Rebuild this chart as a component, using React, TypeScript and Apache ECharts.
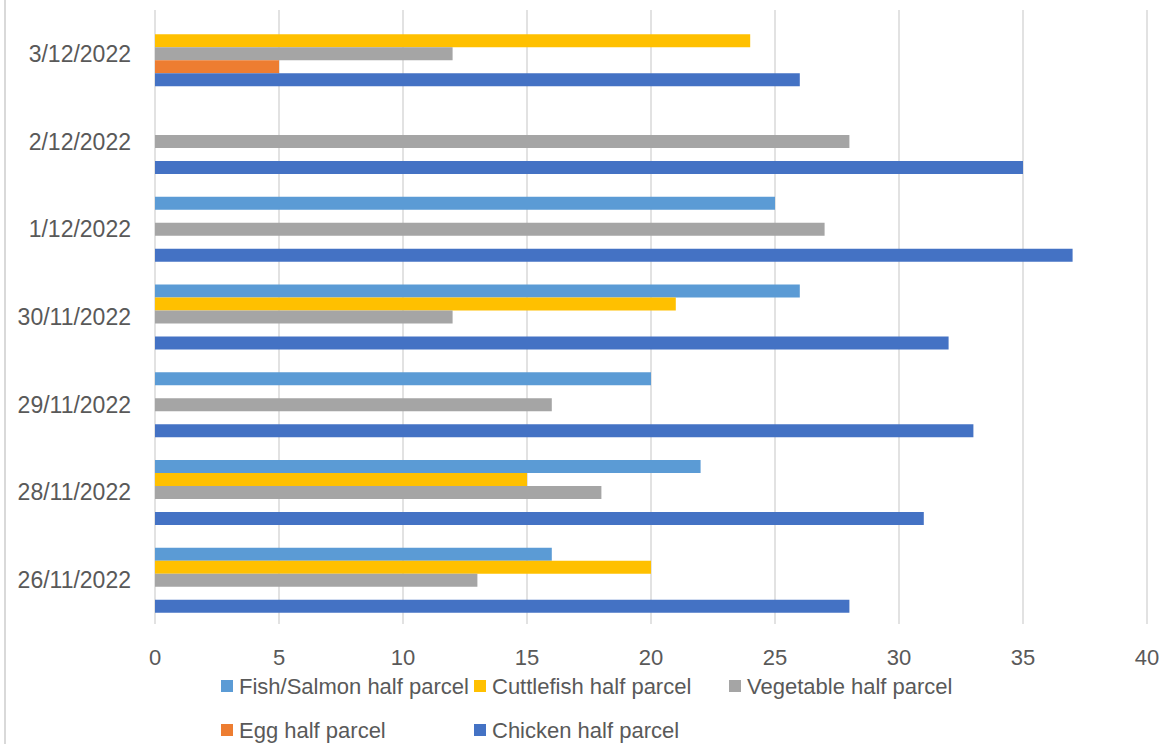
import React, { useEffect, useRef } from "react";
import * as echarts from "echarts";

const categories = ["26/11/2022", "28/11/2022", "29/11/2022", "30/11/2022", "1/12/2022", "2/12/2022", "3/12/2022"];
const fish = [16, 22, 20, 26, 25, null, null];
const cuttlefish = [20, 15, null, 21, null, null, 24];
const vegetable = [13, 18, 16, 12, 27, 28, 12];
const egg = [null, null, null, null, null, null, 5];
const chicken = [28, 31, 33, 32, 37, 35, 26];
const xTicks = [0, 5, 10, 15, 20, 25, 30, 35, 40];

const seriesNames = [
  "Fish/Salmon half parcel",
  "Cuttlefish half parcel",
  "Vegetable half parcel",
  "Egg half parcel",
  "Chicken half parcel",
];
const seriesData = [fish, cuttlefish, vegetable, egg, chicken];
const colors = ["#5B9BD5", "#FFC000", "#A5A5A5", "#ED7D31", "#4472C4"];
const legendPos = [
  { left: 221, top: 675 },
  { left: 474, top: 675 },
  { left: 729, top: 675 },
  { left: 221, top: 719 },
  { left: 474, top: 719 },
];

const FONT = "'Liberation Sans', Arial, sans-serif";
const TEXT = "#595959";

export default function App() {
  const ref = useRef<HTMLDivElement>(null);
  useEffect(() => {
    if (!ref.current) return;
    const chart = echarts.init(ref.current, null, { renderer: "svg" });
    chart.setOption({
      animation: false,
      textStyle: { fontFamily: FONT },
      grid: { left: 155, right: 19, top: 10, bottom: 120, containLabel: false },
      xAxis: {
        type: "value",
        min: xTicks[0],
        max: xTicks[xTicks.length - 1],
        interval: 5,
        axisLine: { show: false },
        axisTick: { show: false },
        axisLabel: { color: TEXT, fontSize: 22, fontFamily: FONT, margin: 22 },
        splitLine: { show: true, lineStyle: { color: "#d9d9d9", width: 1.5 } },
      },
      yAxis: {
        type: "category",
        data: categories,
        axisLine: { show: false },
        axisTick: { show: false },
        axisLabel: { color: TEXT, fontSize: 23, fontFamily: FONT, margin: 24 },
      },
      legend: seriesNames.map((n, i) => ({
        data: [n],
        left: legendPos[i].left,
        top: legendPos[i].top,
        padding: 0,
        icon: "rect",
        itemWidth: 12,
        itemHeight: 12,
        itemGap: 6,
        selectedMode: false,
        textStyle: { color: TEXT, fontSize: 22, fontFamily: FONT, padding: [0, 0, 0, 1] },
      })),
      graphic: [
        {
          type: "line",
          shape: { x1: 5, y1: 0, x2: 5, y2: 744 },
          style: { stroke: "#d9d9d9", lineWidth: 2 },
        },
      ],
      series: seriesNames.map((n, i) => ({
        name: n,
        type: "bar",
        data: seriesData[i],
        barWidth: 13,
        barGap: "0%",
        itemStyle: { color: colors[i] },
      })),
    });
    return () => chart.dispose();
  }, []);
  return <div ref={ref} style={{ width: 1166, height: 744, position: "absolute", left: 0, top: 0 }} />;
}
